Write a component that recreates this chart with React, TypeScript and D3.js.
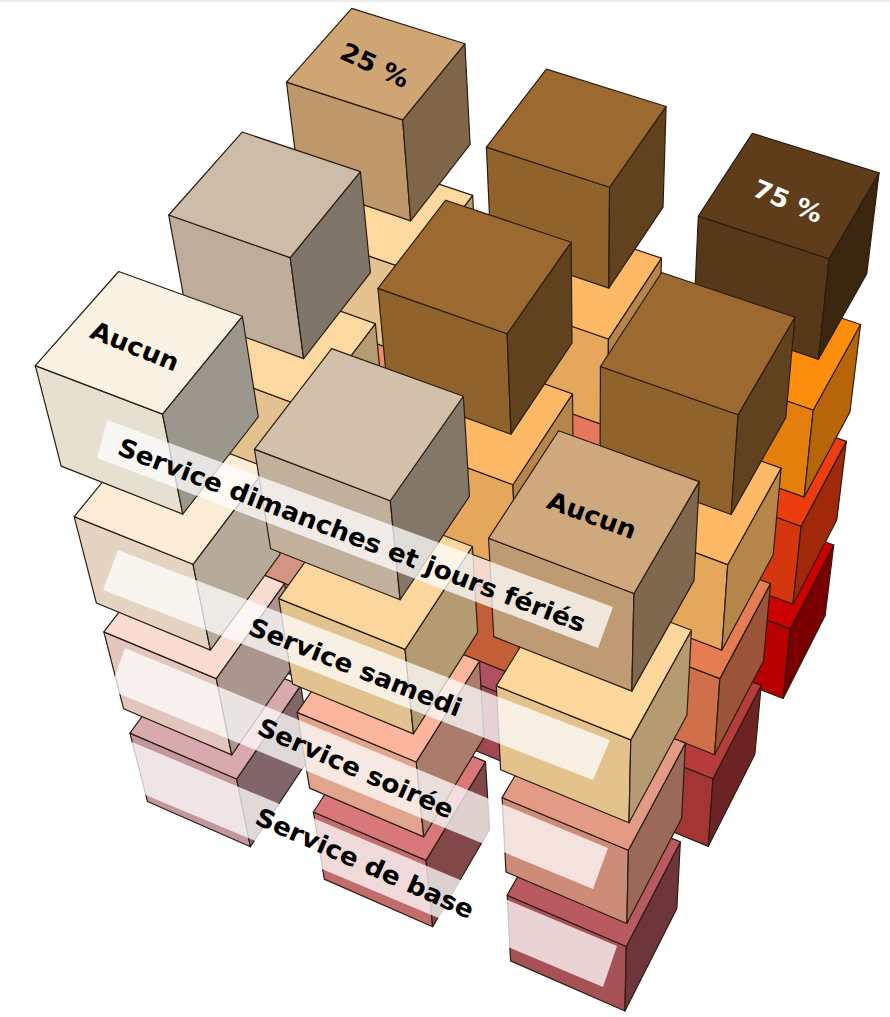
import React from "react";
import * as d3 from "d3";

const W = 890, H = 1017;

// Four service layers, top to bottom, each a 3x3 grid of blocks (row 0 = front, col 0 = left).
const serviceLabels = ["Service dimanches et jours fériés", "Service samedi", "Service soirée", "Service de base"];
const zTop = [0, -1.54, -2.88, -4.2];
const zBottom = [-1, -2.53, -3.87, -5.18];
const columns = [0, 1, 2];
const rows = [0, 1, 2];
const dimancheColours = [["#faf3e3", "#d2c0aa", "#cfa87d"], ["#cdbca7", "#9c6a30", "#9c6a30"], ["#cfa574", "#9c6a30", "#5f3d1a"]];
const samediColours = [["#fdecd6", "#fbd79e", "#fdd79c"], ["#fdd8a0", "#fdb965", "#fdb965"], ["#fdd89f", "#fdb965", "#fd8d0c"]];
const soireeColours = [["#fbdcd3", "#fbb69d", "#e49b85"], ["#e9a593", "#d96a3c", "#e67c52"], ["#f08a70", "#e5785c", "#ed3c0e"]];
const baseColours = [["#d8a9ae", "#d9787a", "#b85a60"], ["#c9747a", "#b05060", "#b63b3b"], ["#d06a60", "#c84a40", "#cc0000"]];
const layerColours = [dimancheColours, samediColours, soireeColours, baseColours];
const rightShade = [0.62, 0.72, 0.68, 0.6];
const frontShade = [0.92, 0.9, 0.9, 0.9];

// Camera: projective matrix of the axonometric view.
const camera = [124.134, 88.207, -28.856, 35.287, 40.621, -83.128, -123.207, 365.661, -0.01881, 0.04059, -0.04873];
const proj = (x: number, y: number, z: number): [number, number] => {
  const m = camera;
  const w = m[8] * x + m[9] * y + m[10] * z + 1;
  return [(m[0] * x + m[1] * y + m[2] * z + m[3]) / w, (m[4] * x + m[5] * y + m[6] * z + m[7]) / w];
};
const colScale = d3.scaleLinear().domain([0, 2]).range([0, 3.4]);
const rowScale = d3.scaleLinear().domain([0, 2]).range([0, 3.28]);
const line = d3.line<[number, number]>().curve(d3.curveLinearClosed);

const faces: { d: string; f: string }[] = [];
for (const j of [...rows].reverse()) for (const i of columns) for (let k = 3; k >= 0; k--) {
  const x0 = colScale(i), x1 = x0 + 1, y0 = rowScale(j), y1 = y0 + 1, zt = zTop[k], zb = zBottom[k];
  const col = layerColours[k][j][i];
  const sh = (f: number) => { const c = d3.rgb(col); return d3.rgb(c.r * f, c.g * f, c.b * f).formatHex(); };
  faces.push({ d: line([proj(x0, y0, zb), proj(x1, y0, zb), proj(x1, y0, zt), proj(x0, y0, zt)])!, f: sh(frontShade[k]) });
  faces.push({ d: line([proj(x1, y0, zb), proj(x1, y1, zb), proj(x1, y1, zt), proj(x1, y0, zt)])!, f: sh(rightShade[k]) });
  faces.push({ d: line([proj(x0, y0, zt), proj(x1, y0, zt), proj(x1, y1, zt), proj(x0, y1, zt)])!, f: col });
}

// Translucent label strips and text placement.
const bands: [number, number][][] = [
  [[107, 420], [613, 607], [598, 648], [97, 458]],
  [[118, 550], [610, 740], [593, 780], [103, 590]],
  [[125, 648], [608, 848], [593, 889], [110, 690]],
  [[132, 742], [617, 946], [603, 987], [117, 783]],
];
const labels = [
  { t: serviceLabels[0], x: 352, y: 535, a: 21, c: "#000" },
  { t: serviceLabels[1], x: 355.5, y: 667, a: 21.6, c: "#000" },
  { t: serviceLabels[2], x: 356, y: 768, a: 23.8, c: "#000" },
  { t: serviceLabels[3], x: 365, y: 863, a: 24, c: "#000" },
  { t: "Aucun", x: 135, y: 346, a: 22, c: "#000" },
  { t: "25 %", x: 375, y: 65, a: 25, c: "#000" },
  { t: "75 %", x: 788, y: 201, a: 23, c: "#fff" },
  { t: "Aucun", x: 592, y: 515, a: 20, c: "#000" },
];

export default function App() {
  return (
    <svg width={W} height={H} style={{ position: "fixed", left: 0, top: 0, background: "#fff" }}>
      <line x1={0} x2={W} y1={1} y2={1} stroke="#ddd" />
      {faces.map((f, i) => <path key={i} d={f.d} fill={f.f} stroke="#2b1d10" strokeWidth={1.2} strokeLinejoin="round" />)}
      {bands.map((b, i) => <path key={i} d={line(b as [number, number][])!} fill="#fff" fillOpacity={0.75} />)}
      {labels.map((l, i) => (
        <text key={i} transform={`translate(${l.x},${l.y}) rotate(${l.a}) scale(1.06,1)`} textAnchor="middle" dy="0.36em"
          fontFamily="DejaVu Sans" fontWeight="bold" fontSize={25} fill={l.c}>{l.t}</text>
      ))}
    </svg>
  );
}
